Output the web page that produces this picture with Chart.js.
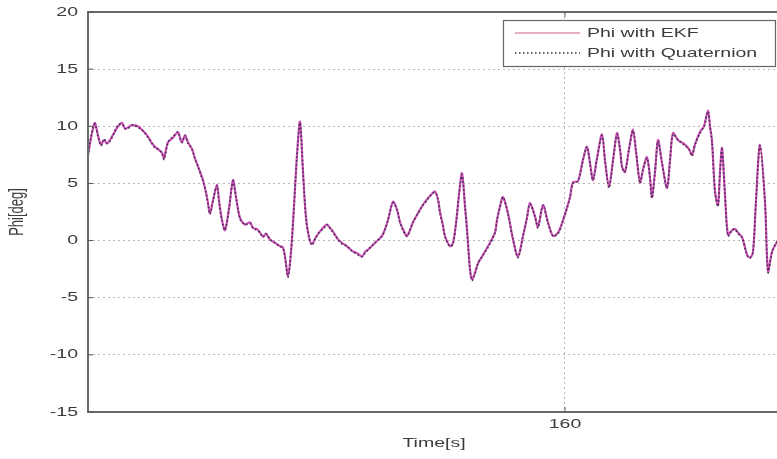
<!DOCTYPE html>
<html>
<head>
<meta charset="utf-8">
<script src="https://cdn.jsdelivr.net/npm/chart.js@4.4.1/dist/chart.umd.min.js"></script>
<style>
html,body{margin:0;padding:0;background:#fff;overflow:hidden;}
#wrap{position:relative;width:800px;height:459px;}
</style>
</head>
<body>
<div id="wrap"><canvas id="c" width="800" height="459"></canvas></div>
<script>
// Time [s]
const timeS = [150.46,150.50,150.56,150.60,150.66,150.72,150.78,150.84,150.90,150.98,151.06,151.14,151.20,151.26,151.34,151.46,151.56,151.66,151.74,151.80,151.86,151.94,151.98,152.06,152.16,152.26,152.30,152.34,152.40,152.46,152.54,152.60,152.66,152.72,152.76,152.82,152.86,152.90,152.96,153.04,153.08,153.14,153.20,153.28,153.36,153.42,153.50,153.60,153.70,153.76,153.84,153.90,153.96,154.02,154.10,154.20,154.30,154.36,154.40,154.46,154.52,154.58,154.64,154.70,154.76,154.82,154.88,154.94,155.02,155.10,155.18,155.24,155.30,155.36,155.46,155.54,155.64,155.74,155.84,155.94,156.00,156.06,156.20,156.34,156.40,156.46,156.56,156.64,156.70,156.76,156.84,156.96,157.06,157.14,157.22,157.30,157.40,157.46,157.50,157.56,157.60,157.70,157.76,157.82,157.88,157.94,158.00,158.04,158.10,158.14,158.20,158.26,158.34,158.46,158.60,158.64,158.70,158.76,158.86,158.96,159.06,159.16,159.24,159.30,159.40,159.46,159.56,159.66,159.76,159.86,159.94,160.04,160.10,160.16,160.26,160.36,160.44,160.50,160.56,160.64,160.74,160.80,160.88,160.96,161.04,161.10,161.14,161.20,161.28,161.36,161.42,161.50,161.56,161.64,161.70,161.74,161.80,161.86,161.94,162.04,162.10,162.16,162.26,162.40,162.48,162.54,162.60,162.70,162.78,162.86,162.90,162.94,163.00,163.06,163.10,163.14,163.20,163.26,163.34,163.40,163.46,163.54,163.64,163.70,163.76,163.82,163.90,164.00,164.06,164.14,164.24,164.34];
// Phi [deg] with EKF
const phiEKF = [7.5,8.5,9.8,10.3,9.2,8.4,8.8,8.5,8.8,9.4,10.0,10.3,9.8,9.9,10.1,10.0,9.6,9.1,8.5,8.2,8.0,7.7,7.2,8.6,9.0,9.5,9.0,8.6,9.2,8.6,8.0,7.2,6.5,5.8,5.3,4.2,3.3,2.4,3.5,4.9,3.5,1.8,0.9,2.8,5.3,3.8,2.0,1.4,1.6,1.1,1.0,0.7,0.35,0.6,0.1,-0.2,-0.5,-0.6,-1.4,-3.1,-1.0,3.0,7.5,10.4,6.0,2.0,0.3,-0.3,0.3,0.8,1.2,1.4,1.1,0.8,0.1,-0.2,-0.5,-0.9,-1.1,-1.4,-1.0,-0.8,-0.2,0.4,1.0,1.8,3.4,2.7,1.6,1.0,0.4,1.6,2.4,3.0,3.5,3.9,4.3,3.6,2.5,1.3,0.4,-0.5,-0.2,1.5,4.0,5.9,3.0,1.0,-2.5,-3.4,-2.8,-2.0,-1.4,-0.5,0.7,1.8,3.0,3.8,2.4,0.1,-1.4,0.4,2.0,3.3,2.1,1.2,3.1,1.6,0.4,0.7,1.5,2.9,3.8,5.1,5.2,7.1,8.2,6.8,5.3,7.2,9.3,7.0,4.7,7.0,9.4,8.0,6.5,6.0,8.0,9.7,7.8,5.1,6.2,7.3,5.5,3.8,6.0,8.8,6.8,4.6,7.0,9.4,8.8,8.4,8.0,7.5,8.4,9.5,10.0,11.4,10.0,8.7,4.3,3.1,6.0,8.1,4.0,0.5,0.9,1.0,0.7,0.3,-1.2,-1.5,-1.0,3.5,8.4,3.4,-2.7,-1.0,-0.1,0.5];
// Phi [deg] with Quaternion
const phiQuat = [7.4,8.6,9.9,10.2,9.1,8.3,8.9,8.5,8.7,9.4,10.1,10.2,9.8,9.8,10.1,9.9,9.6,9.0,8.5,8.1,8.0,7.6,7.1,8.6,9.1,9.5,8.9,8.6,9.2,8.5,8.0,7.1,6.5,5.7,5.2,4.2,3.2,2.3,3.5,4.8,3.4,1.7,0.9,2.8,5.2,3.8,1.9,1.4,1.5,1.1,0.9,0.7,0.3,0.6,0.1,-0.2,-0.5,-0.7,-1.4,-3.2,-1.0,3.0,7.4,10.3,6.0,1.9,0.3,-0.4,0.3,0.8,1.1,1.4,1.1,0.7,0.1,-0.3,-0.5,-0.9,-1.2,-1.4,-1.1,-0.8,-0.2,0.4,1.0,1.8,3.3,2.7,1.6,0.9,0.4,1.6,2.4,3.0,3.4,3.9,4.2,3.6,2.4,1.3,0.3,-0.5,-0.3,1.5,4.0,5.8,3.0,0.9,-2.6,-3.5,-2.9,-2.0,-1.4,-0.6,0.7,1.8,2.9,3.8,2.3,0.1,-1.5,0.4,2.0,3.2,2.1,1.1,3.1,1.5,0.4,0.6,1.5,2.8,3.8,5.0,5.2,7.0,8.2,6.7,5.3,7.2,9.2,7.0,4.6,7.0,9.3,8.0,6.4,6.0,8.0,9.6,7.8,5.0,6.2,7.2,5.5,3.7,6.0,8.7,6.8,4.6,7.0,9.3,8.8,8.3,8.0,7.4,8.4,9.4,10.0,11.3,10.0,8.6,4.2,3.0,6.0,8.0,4.0,0.4,0.9,1.0,0.6,0.3,-1.3,-1.5,-1.0,3.5,8.3,3.3,-2.8,-1.0,-0.1,0.5];
const xTickValues = [160];
const yTickValues = [-15,-10,-5,0,5,10,15,20];
const seriesNames = ['Phi with EKF','Phi with Quaternion'];
const xTitle = 'Time[s]';
const yTitle = 'Phi[deg]';

const FONT = "'Liberation Sans', Arial, sans-serif";
const TXT = '#3c3c3c';
const SX = 1.5; // horizontal stretch of the reference image text

function stretchedText(ctx, text, x, y, align) {
  ctx.save();
  ctx.translate(x, y);
  ctx.scale(SX, 1);
  ctx.textAlign = align;
  ctx.textBaseline = 'middle';
  ctx.fillText(text, 0, 0);
  ctx.restore();
}

const boxPlugin = {
  id: 'boxPlugin',
  afterDatasetsDraw(chart) {
    const {ctx, chartArea: a, scales} = chart;
    ctx.save();
    ctx.strokeStyle = '#6a6a6a';
    ctx.lineWidth = 2;
    ctx.beginPath();
    ctx.moveTo(a.right + 20, a.top); ctx.lineTo(a.left, a.top);
    ctx.lineTo(a.left, a.bottom); ctx.lineTo(a.right + 20, a.bottom);
    ctx.stroke();
    // inside tick marks
    ctx.lineWidth = 1;
    ctx.strokeStyle = '#555';
    yTickValues.forEach(v => {
      const y = scales.y.getPixelForValue(v);
      ctx.beginPath(); ctx.moveTo(a.left, y); ctx.lineTo(a.left + 5, y); ctx.stroke();
    });
    xTickValues.forEach(v => {
      const x = scales.x.getPixelForValue(v);
      ctx.beginPath(); ctx.moveTo(x, a.bottom); ctx.lineTo(x, a.bottom - 5); ctx.stroke();
      ctx.beginPath(); ctx.moveTo(x, a.top); ctx.lineTo(x, a.top + 5); ctx.stroke();
    });
    // tick labels and titles
    ctx.fillStyle = TXT;
    ctx.font = '13px ' + FONT;
    yTickValues.forEach(v => {
      stretchedText(ctx, String(v), a.left - 10, scales.y.getPixelForValue(v), 'right');
    });
    xTickValues.forEach(v => {
      stretchedText(ctx, String(v), scales.x.getPixelForValue(v), a.bottom + 12, 'center');
    });
    stretchedText(ctx, xTitle, 434, a.bottom + 31, 'center');
    ctx.save();
    ctx.translate(18, (a.top + a.bottom) / 2);
    ctx.rotate(-Math.PI / 2);
    ctx.scale(1, SX);
    ctx.textAlign = 'center';
    ctx.textBaseline = 'middle';
    ctx.fillText(yTitle, 0, 0);
    ctx.restore();
    // legend
    const lx = 503, ly = 20, lw = 272, lh = 46;
    ctx.fillStyle = '#fff';
    ctx.fillRect(lx, ly, lw, lh);
    ctx.strokeStyle = '#666';
    ctx.lineWidth = 1.2;
    ctx.strokeRect(lx + 0.5, ly + 0.5, lw, lh);
    const ds = chart.data.datasets;
    const rows = [ly + 13, ly + 33];
    ds.forEach((d, i) => {
      ctx.save();
      ctx.strokeStyle = i === 0 ? '#d2607a' : d.borderColor;
      ctx.lineWidth = i === 0 ? 1.2 : 1.6;
      ctx.setLineDash(d.borderDash || []);
      ctx.beginPath(); ctx.moveTo(515, rows[i]); ctx.lineTo(580, rows[i]); ctx.stroke();
      ctx.restore();
      ctx.fillStyle = TXT;
      ctx.font = '13px ' + FONT;
      stretchedText(ctx, seriesNames[i], 587, rows[i], 'left');
    });
    ctx.restore();
  }
};

new Chart(document.getElementById('c'), {
  type: 'line',
  data: {
    datasets: [
      {
        label: seriesNames[0],
        data: timeS.map((t, i) => ({x: t, y: phiEKF[i]})),
        borderColor: '#c94fb4',
        borderWidth: 2.2,
        pointRadius: 0,
        tension: 0.3,
        order: 1
      },
      {
        label: seriesNames[1],
        data: timeS.map((t, i) => ({x: t, y: phiQuat[i]})),
        borderColor: '#3a2e48',
        borderWidth: 1.6,
        borderDash: [1.5, 2.5],
        pointRadius: 0,
        tension: 0.3,
        order: 0
      }
    ]
  },
  options: {
    responsive: false,
    animation: false,
    layout: {padding: {top: 12, right: 10, left: 0, bottom: 0}},
    plugins: {legend: {display: false}, tooltip: {enabled: false}},
    scales: {
      x: {
        type: 'linear',
        min: 150.46,
        max: 164.5,
        afterBuildTicks: s => { s.ticks = xTickValues.map(v => ({value: v})); },
        afterFit: s => { s.height = 47; s.paddingLeft = 0; s.paddingRight = 0; },
        grid: {color: '#b8b8b8', drawTicks: false, lineWidth: 1},
        border: {display: false, dash: [2, 3]},
        ticks: {display: false},
        title: {display: false}
      },
      y: {
        min: -15,
        max: 20,
        afterBuildTicks: s => { s.ticks = yTickValues.map(v => ({value: v})); },
        afterFit: s => { s.width = 88; s.paddingTop = 0; s.paddingBottom = 0; },
        grid: {color: '#b8b8b8', drawTicks: false, lineWidth: 1},
        border: {display: false, dash: [2, 3]},
        ticks: {display: false},
        title: {display: false}
      }
    }
  },
  plugins: [boxPlugin]
});
</script>
</body>
</html>
